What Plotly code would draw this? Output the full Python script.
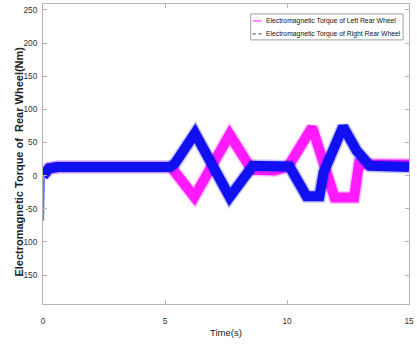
import plotly.graph_objects as go

# Envelope centre of each torque signal (time in s, torque in Nm)
t_left = [0.0, 0.25, 0.6, 5.25, 6.2, 7.65, 8.55, 9.5, 10.05, 11.03, 11.95, 12.75, 12.95, 13.3, 15.0]
tq_left = [0, 11, 13, 13, -32, 62, 9, 8, 14, 73, -33, -33, 18, 17, 17]

t_right = [0.0, 0.25, 0.6, 5.2, 5.4, 6.23, 7.65, 8.6, 10.1, 10.8, 11.33, 11.5, 12.3, 12.75, 12.85, 13.4, 15.0]
tq_right = [0, 11, 13, 13, 18, 64, -32, 15, 14, -31, -31, 5, 74, 40, 38, 15, 13]

# Start-up transient spike
t_start = [0.0, 0.02, 0.06]
tq_start = [0, -68, 0]

x_ticks = [0, 5, 10, 15]
y_ticks = [-150, -100, -50, 0, 50, 100, 150, 200, 250]

legend_labels = ["Electromagnetic Torque of Left Rear Wheel",
                 "Electromagnetic Torque of Right Rear Wheel"]

PINK = "#ff1aff"
BLUE = "#1010f0"
FONT = "Liberation Sans, Arial, sans-serif"

fig = go.Figure()

# soft halo then solid band for each signal
for t, v, c in [(t_left, tq_left, PINK), (t_right, tq_right, BLUE)]:
    fig.add_trace(go.Scatter(x=t, y=v, mode="lines", showlegend=False, hoverinfo="skip",
                             line=dict(color=c, width=13), opacity=0.25))
    fig.add_trace(go.Scatter(x=t, y=v, mode="lines", showlegend=False,
                             line=dict(color=c, width=10)))

fig.add_trace(go.Scatter(x=t_start, y=tq_start, mode="lines", showlegend=False,
                         line=dict(color="#7070ff", width=1.2)))

axis_common = dict(showline=True, linecolor="#b4b4b4", linewidth=1, mirror="ticks",
                   ticks="inside", ticklen=4, tickcolor="#b4b4b4", showgrid=False,
                   zeroline=False, ticklabeloverflow="allow",
                   tickfont=dict(family=FONT, size=8.3, color="#333333"))

fig.update_xaxes(range=[0, 15], tickvals=x_ticks, ticktext=[str(v) for v in x_ticks],
                 ticklabelstandoff=9, **axis_common)
fig.update_yaxes(range=[-193.6, 259], tickvals=y_ticks, ticktext=[str(v) for v in y_ticks],
                 ticklabelstandoff=3, **axis_common)

# legend box drawn in paper coordinates
bx0, bx1, by0, by1 = 0.5676, 0.9838, 0.8804, 0.9668
fig.add_shape(type="rect", xref="paper", yref="paper", x0=bx0, x1=bx1, y0=by0, y1=by1,
              line=dict(color="#a0a0a0", width=1), fillcolor="white", layer="above")
rows = [0.9435, 0.9003]
styles = [dict(color=PINK, width=1, dash="solid"), dict(color="#303060", width=1, dash="dot")]
for yy, st, lab in zip(rows, styles, legend_labels):
    fig.add_shape(type="line", xref="paper", yref="paper", x0=0.573, x1=0.597, y0=yy, y1=yy,
                  line=st, layer="above")
    fig.add_annotation(xref="paper", yref="paper", x=0.6027, y=yy, text=lab, showarrow=False,
                       xanchor="left", yanchor="middle",
                       font=dict(family=FONT, size=6.8, color="#111111"))

fig.add_annotation(xref="paper", yref="paper", x=0.5, y=-0.095, text="Time(s)", showarrow=False,
                   xanchor="center", yanchor="middle",
                   font=dict(family=FONT, size=9.5, color="#222222"))
fig.add_annotation(xref="paper", yref="paper", x=-0.068, y=0.475,
                   text="<b>Electromagnetic Torque of  Rear Wheel(Nm)</b>", showarrow=False,
                   textangle=-90, xanchor="center", yanchor="middle",
                   font=dict(family=FONT, size=11, color="#222222"))

fig.update_layout(width=417, height=344, margin=dict(l=43, r=4, t=3, b=40),
                  plot_bgcolor="white", paper_bgcolor="white")

fig.write_html("out.html")
